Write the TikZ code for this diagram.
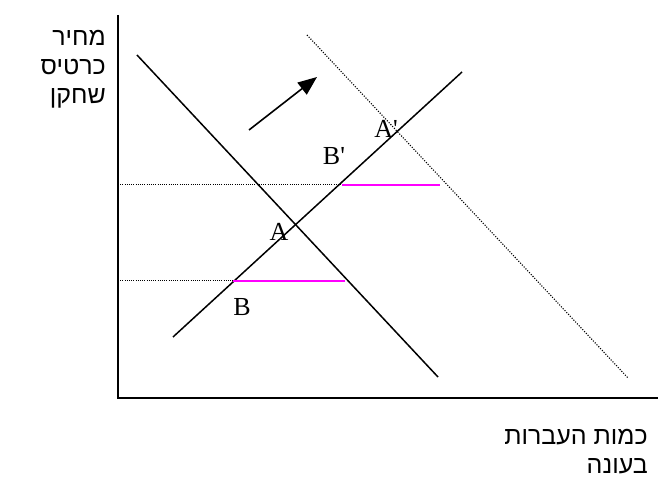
\documentclass[tikz,border=0pt]{standalone}
\usepackage{fontspec}
\setmainfont{Liberation Serif}
\newfontfamily\hebfont[Script=Hebrew]{Liberation Sans}
\TeXXeTstate=1
\usetikzlibrary{arrows.meta,positioning}
\definecolor{gapline}{RGB}{255,0,255}
\newcommand{\prm}{\textquotesingle}
\tikzset{
  >={Triangle[length=19pt,width=15pt]},
  axis/.style={draw=black,line width=1.6pt},
  curve/.style={draw=black,line width=1.5pt},
  shifted/.style={draw=black,line width=1.1pt,dash pattern=on 1.1pt off 1.5pt},
  guide/.style={draw=black,line width=1pt,dash pattern=on 1pt off 1.2pt},
  gap/.style={draw=gapline,line width=1.6pt},
  pt/.style={font=\fontsize{26}{26}\selectfont,inner sep=0pt},
  axlabel/.style={font=\hebfont\fontsize{25}{29}\selectfont,align=right,inner sep=0pt},
}
\begin{document}
\begin{tikzpicture}[x=1pt,y=-1pt]
  \useasboundingbox (0,0) rectangle (662,478);
  % axes
  \coordinate (o) at (118,398);
  \coordinate (ytop) at (118,15);
  \coordinate (xend) at (658,398);
  \draw[axis] (ytop) -- (o) -- (xend);
  % demand, supply and shifted demand
  \coordinate (d1) at (137,55);   \coordinate (d2) at (438,377);
  \coordinate (s1) at (173,337);  \coordinate (s2) at (462,72);
  \coordinate (n1) at (307,35);   \coordinate (n2) at (628,378);
  \draw[curve] (d1) -- (d2);
  \draw[curve] (s1) -- (s2);
  \draw[shifted] (n1) -- (n2);
  % price levels
  \coordinate (hy) at (118,185);  \coordinate (hs) at (342,185);  \coordinate (hd) at (440,185);
  \coordinate (ly) at (118,281);  \coordinate (ls) at (233,281);  \coordinate (ld) at (345,281);
  \draw[guide] (hy) -- (hs);
  \draw[gap] (hs) -- (hd);
  \draw[guide] (ly) -- (ls);
  \draw[gap] (ls) -- (ld);
  % shift arrow
  \coordinate (a1) at (249,130);
  \coordinate (a2) at (317,77);
  \draw[->,line width=1.6pt] (a1) -- (a2);
  % points
  \node[pt] (A) at (279,232) {A};
  \node[pt] (B) at (242,307) {B};
  \node[pt] (Bp) at (334,156) {B\prm};
  \node[pt] (Ap) at (386,129) {A\prm};
  % axis labels
  \node[axlabel,anchor=north east] (ylab) at (106,30) {\beginR מחיר\endR\\\beginR כרטיס\endR\\\beginR שחקן\endR};
  \node[axlabel,anchor=north east] (xlab) at (648,429) {\beginR כמות העברות\endR\\\beginR בעונה\endR};
\end{tikzpicture}
\end{document}
